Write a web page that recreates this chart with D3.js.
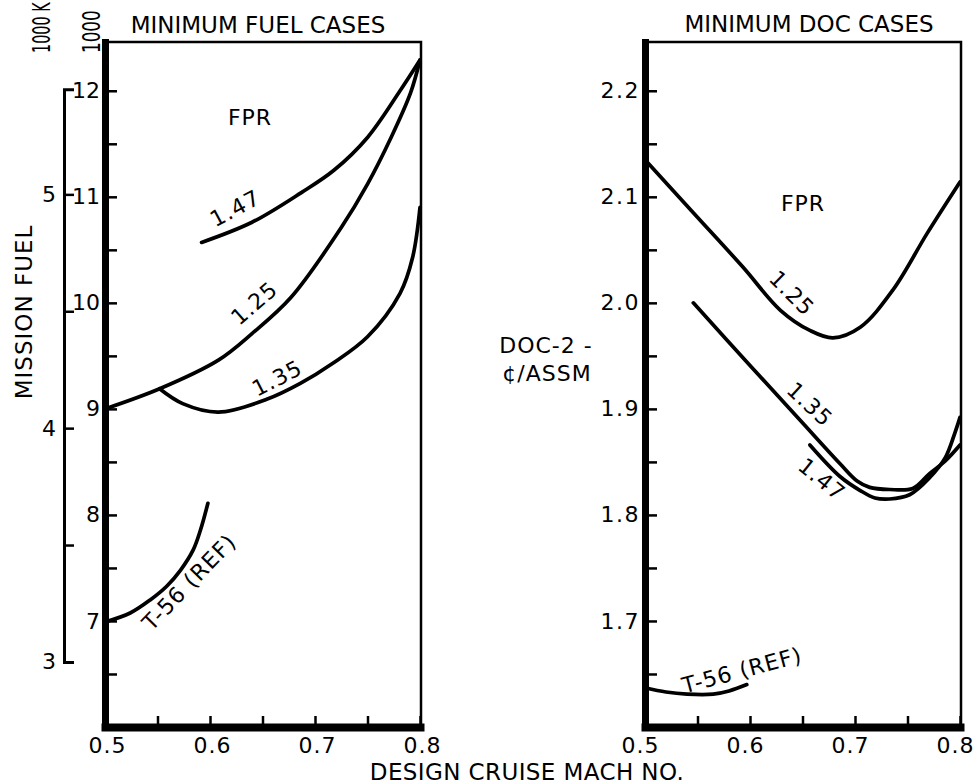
<!DOCTYPE html>
<html>
<head>
<meta charset="utf-8">
<script src="https://cdn.jsdelivr.net/npm/d3@7"></script>
<style>
  body { margin: 0; background: #fff; }
  svg { display: block; }
  text { font-family: "DejaVu Sans", sans-serif; fill: #000; }
</style>
</head>
<body>
<svg id="chart" width="975" height="784"></svg>
<script>
// ---- Axis ticks -------------------------------------------------------
const machTicks  = [0.5, 0.55, 0.6, 0.65, 0.7, 0.75, 0.8];
const machLabels = [0.5, 0.6, 0.7, 0.8];

// Mission fuel in 1000 lb (inner scale) and 1000 kg (outer scale)
const fuelTicks    = [6.5, 7, 7.5, 8, 8.5, 9, 9.5, 10, 10.5, 11, 11.5, 12];
const fuelLabels   = [7, 8, 9, 10, 11, 12];
const fuelKgTicks  = [3, 3.5, 4, 4.5, 5];
const fuelKgLabels = [3, 4, 5];
const lbPerKg = 2.2046;

// Direct operating cost, cents per available seat statute mile
const docTicks  = [1.65, 1.7, 1.75, 1.8, 1.85, 1.9, 1.95, 2.0, 2.05, 2.1, 2.15, 2.2];
const docLabels = [1.7, 1.8, 1.9, 2.0, 2.1, 2.2];

// ---- Minimum fuel cases: mission fuel (1000 lb) vs design Mach --------
const fuelFpr147Mach = [0.592, 0.640, 0.687, 0.718, 0.75, 0.781, 0.8];
const fuelFpr147     = [10.57, 10.76, 11.04, 11.25, 11.56, 12.0, 12.29];

const fuelFpr125Mach = [0.5, 0.552, 0.608, 0.640, 0.677, 0.725, 0.75, 0.772, 0.791, 0.8];
const fuelFpr125     = [9.0, 9.19, 9.46, 9.71, 10.05, 10.71, 11.12, 11.55, 11.98, 12.29];

const fuelFpr135Mach = [0.552, 0.574, 0.608, 0.654, 0.686, 0.717, 0.75, 0.781, 0.793, 0.8];
const fuelFpr135     = [9.19, 9.05, 8.97, 9.09, 9.24, 9.43, 9.68, 10.09, 10.43, 10.90];

const fuelT56Mach = [0.5, 0.524, 0.543, 0.559, 0.572, 0.584, 0.591, 0.598];
const fuelT56     = [6.99, 7.075, 7.198, 7.33, 7.48, 7.67, 7.86, 8.11];

// ---- Minimum DOC cases: DOC-2 (cents/ASSM) vs design Mach -------------
const docFpr125Mach = [0.5, 0.546, 0.593, 0.629, 0.657, 0.679, 0.705, 0.736, 0.769, 0.8];
const docFpr125     = [2.135, 2.085, 2.034, 1.993, 1.974, 1.967, 1.977, 2.012, 2.066, 2.114];

const docFpr135Mach = [0.546, 0.6, 0.648, 0.686, 0.702, 0.714, 0.733, 0.755, 0.771, 0.786, 0.8];
const docFpr135     = [2.0, 1.941, 1.889, 1.848, 1.832, 1.826, 1.824, 1.825, 1.839, 1.851, 1.866];

const docFpr147Mach = [0.657, 0.686, 0.705, 0.719, 0.733, 0.752, 0.771, 0.786, 0.795, 0.8];
const docFpr147     = [1.866, 1.836, 1.823, 1.816, 1.815, 1.819, 1.835, 1.854, 1.877, 1.892];

const docT56Mach = [0.5, 0.52, 0.54, 0.565, 0.58, 0.597];
const docT56     = [1.637, 1.633, 1.631, 1.631, 1.634, 1.640];

// ---- Layout -----------------------------------------------------------
const svg = d3.select("#chart");
const plotTop = 42, plotBottom = 727;

const xFuel = d3.scaleLinear().domain([0.5, 0.8]).range([105, 420]);
const xDoc  = d3.scaleLinear().domain([0.5, 0.8]).range([645, 960]);
const yFuel = d3.scaleLinear().domain([6, 12.46]).range([plotBottom, plotTop]);
const yDoc  = d3.scaleLinear().domain([1.6, 2.246]).range([plotBottom, plotTop]);
const yKg   = d3.scaleLinear().domain([3, 5.45])
                .range([yFuel(3 * lbPerKg), yFuel(5.45 * lbPerKg)]);

const zip = (xs, ys) => xs.map((x, i) => [x, ys[i]]);
const fmt1 = d3.format(".1f");

function styleAxis(g, domainWidth) {
  g.select(".domain").attr("stroke", "#000").attr("stroke-width", domainWidth)
    .attr("stroke-linecap", "square");
  g.selectAll(".tick line").attr("stroke", "#000").attr("stroke-width", 2.5);
  g.selectAll(".tick text").attr("font-size", 22).attr("fill", "#000")
    .attr("font-family", "DejaVu Sans, sans-serif");
}

function panel(x, y, yTicks, yFormat, labelShift) {
  // thin top and right frame
  svg.append("path")
    .attr("d", `M${x.range()[0]},${plotTop}H${x.range()[1] + 1}V${plotBottom}`)
    .attr("fill", "none").attr("stroke", "#000").attr("stroke-width", 2.5);

  const gx = svg.append("g").attr("transform", `translate(0,${plotBottom})`)
    .call(d3.axisBottom(x).tickValues(machTicks).tickSizeInner(-11)
      .tickSizeOuter(0).tickPadding(10)
      .tickFormat(d => machLabels.includes(d) ? fmt1(d) : ""));
  styleAxis(gx, 8);
  gx.selectAll(".tick text").attr("letter-spacing", 1).attr("dx", labelShift);

  const gy = svg.append("g").attr("transform", `translate(${x.range()[0]},0)`)
    .call(d3.axisLeft(y).tickValues(yTicks).tickSizeInner(-12)
      .tickSizeOuter(0).tickPadding(5).tickFormat(yFormat));
  styleAxis(gy, 7);
  return gy;
}

function curve(x, y, xs, ys) {
  svg.append("path")
    .datum(zip(xs, ys))
    .attr("fill", "none").attr("stroke", "#000").attr("stroke-width", 3.7)
    .attr("stroke-linecap", "round").attr("stroke-linejoin", "round")
    .attr("d", d3.line().x(d => x(d[0])).y(d => y(d[1])).curve(d3.curveCatmullRom.alpha(0.5)));
}

function label(text, cx, cy, angle, size = 22, spacing = 1) {
  svg.append("text")
    .attr("transform", `translate(${cx},${cy}) rotate(${angle})`)
    .attr("text-anchor", "middle").attr("dy", "0.36em")
    .attr("font-size", size).attr("letter-spacing", spacing)
    .text(text);
}

// ---- Left panel: minimum fuel cases -----------------------------------
panel(xFuel, yFuel, fuelTicks, d => fuelLabels.includes(d) ? d : "", 2);

const gKg = svg.append("g").attr("transform", "translate(64,0)")
  .call(d3.axisLeft(yKg).tickValues(fuelKgTicks).tickSizeInner(-10)
    .tickSizeOuter(-10).tickPadding(8)
    .tickFormat(d => fuelKgLabels.includes(d) ? d : ""));
styleAxis(gKg, 3);
gKg.select(".domain").attr("stroke-linecap", "butt");

curve(xFuel, yFuel, fuelFpr147Mach, fuelFpr147);
curve(xFuel, yFuel, fuelFpr125Mach, fuelFpr125);
curve(xFuel, yFuel, fuelFpr135Mach, fuelFpr135);
curve(xFuel, yFuel, fuelT56Mach, fuelT56);

label("FPR", 250, 117, 0);
label("1.47", 235, 208, -28);
label("1.25", 254, 303, -41);
label("1.35", 277, 378, -27);
label("T-56 (REF)", 189, 582, -46);

svg.append("text").attr("x", 258).attr("y", 33).attr("text-anchor", "middle")
  .attr("font-size", 23).text("MINIMUM FUEL CASES");

svg.append("text").attr("transform", "translate(32,312) rotate(-90)")
  .attr("text-anchor", "middle").attr("font-size", 23).attr("letter-spacing", 1)
  .text("MISSION FUEL");

// unit captions above the two fuel scales, set in a condensed face
svg.append("text").attr("transform", "translate(100,53) rotate(-90) scale(0.7,1)")
  .attr("font-size", 24).text("1000");

svg.append("text").attr("transform", "translate(50,53) rotate(-90) scale(0.6,1)")
  .attr("font-size", 24).text("1000 K");

// ---- Right panel: minimum DOC cases -----------------------------------
panel(xDoc, yDoc, docTicks, d => docLabels.includes(d) ? fmt1(d) : "", -5)
  .selectAll(".tick text").attr("letter-spacing", 1.5);

curve(xDoc, yDoc, docFpr125Mach, docFpr125);
curve(xDoc, yDoc, docFpr135Mach, docFpr135);
curve(xDoc, yDoc, docFpr147Mach, docFpr147);
curve(xDoc, yDoc, docT56Mach, docT56);

label("FPR", 803, 203, 0);
label("1.25", 792, 293, 45);
label("1.35", 810, 404, 43);
label("1.47", 822, 479, 39);
label("T-56 (REF)", 742, 670, -15);

svg.append("text").attr("x", 809).attr("y", 32).attr("text-anchor", "middle")
  .attr("font-size", 23).text("MINIMUM DOC CASES");

svg.append("text").attr("x", 546).attr("y", 353).attr("text-anchor", "middle")
  .attr("font-size", 22).attr("letter-spacing", 1).text("DOC-2 -");
svg.append("text").attr("x", 547).attr("y", 381).attr("text-anchor", "middle")
  .attr("font-size", 22).attr("letter-spacing", 1).text("¢/ASSM");

// ---- Shared x-axis title ----------------------------------------------
svg.append("text").attr("x", 527).attr("y", 780).attr("text-anchor", "middle")
  .attr("font-size", 23).attr("letter-spacing", 0.4).text("DESIGN CRUISE MACH NO.");
</script>
</body>
</html>
